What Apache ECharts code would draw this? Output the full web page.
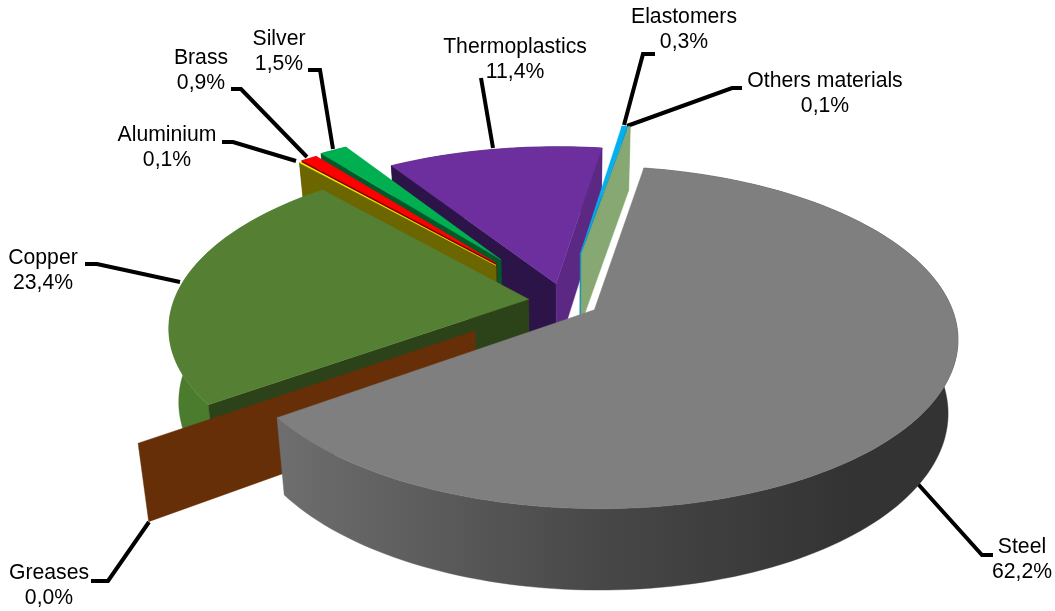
<!DOCTYPE html>
<html>
<head>
<meta charset="utf-8">
<style>html,body{margin:0;padding:0;background:#fff}#chart{width:1055px;height:611px}</style>
<script src="https://cdn.jsdelivr.net/npm/echarts@6/dist/echarts.min.js"></script>
</head>
<body>
<div id="chart"></div>
<script>
// Data, in the order the pie runs clockwise from its first angle
const categories = ['Steel','Greases','Copper','Aluminium','Brass','Silver','Thermoplastics','Elastomers','Others materials'];
const values = [62.2,0.0,23.4,0.1,0.9,1.5,11.4,0.3,0.1];

// Per-slice look, by category
const explode = [0.10,0.30,0.10,0.30,0.31,0.32,0.11,0.30,0.30];
const topColors = ['#7F7F7F','#662F08','#558034','#FFFF00','#FF0000','#00B050','#6E2F9E','#00B0F0','#8AAA75'];
const startWallColors = ['#555555','#662F08','#2C4319','#6B6600','#800000','#005A2A','#2C1348','#0A8FBF','#8AAA75'];
const endWallColors = ['#555555','#662F08','#2C4319','#6B6600','#800000','#005A2A','#5B2884','#0A8FBF','#87A872'];
const outerWallColors = [null,'#662F08','#4B7B2D','#6B6600','#800000','#005A2A','#2C1348','#0A8FBF','#8AAA75'];
const paintOrder = [6,7,8,5,4,3,2,1,0];

// Label layout
const labelCentres = [[1022,560],[49,586],[43,271],[167,148],[201,71],[279,52],[515,60],[684,30],[825,94]];
const leaders = [
  [[918,484],[982,555],[993,555]],
  [[149,522],[108,581],[91,581]],
  [[180,282],[97,264],[85,264]],
  [[296,161],[233,142],[222,142]],
  [[307,157],[241,89],[231,89]],
  [[333,149],[320,70],[308,70]],
  [[493,148],[481,78]],
  [[624,125],[643,54],[655,54]],
  [[627,126],[732,88],[742,88]]
];

// Projection of the tilted disc
const firstAngle = 10, CX = 564, CY = 301, RX = 355, RY = 164, PERSP = 0.16, DEPTH = 72, BOTTOM_SHRINK = 0.975;

function project(X, Y, z) {
  const s = 1 / (1 + PERSP * Y);
  const zs = 1 - (1 - BOTTOM_SHRINK) * z;
  return [CX + RX * X * s * zs, CY - RY * Y * s * zs + DEPTH * s * z];
}
const rad = d => d * Math.PI / 180;

const total = values.reduce((a, b) => a + b, 0);
const starts = [];
values.reduce((acc, v, i) => { starts[i] = acc; return acc + v / total * 360; }, firstAngle);

function buildSlice(i) {
  const a0 = starts[i], sweep = values[i] / total * 360, a1 = a0 + sweep, mid = rad(a0 + sweep / 2);
  const ox = explode[i] * Math.sin(mid), oy = explode[i] * Math.cos(mid);
  const rim = z => {
    const pts = [], n = Math.max(1, Math.ceil(sweep / 1.5));
    for (let k = 0; k <= n; k++) {
      const a = rad(a0 + sweep * k / n);
      pts.push(project(ox + Math.sin(a), oy + Math.cos(a), z));
    }
    return pts;
  };
  const apex = z => project(ox, oy, z);
  const topRim = rim(0), botRim = rim(1);
  const out = [];
  const poly = (points, fill) => out.push({
    type: 'polygon', shape: { points: points },
    style: { fill: fill, stroke: fill, lineWidth: 0.4 }, silent: true
  });
  if (sweep > 0.01) {
    const wallFill = outerWallColors[i] || {
      type: 'linear', x: 280, y: 0, x2: 950, y2: 0, global: true,
      colorStops: [
        { offset: 0, color: '#6E6E6E' },
        { offset: 0.47, color: '#484848' },
        { offset: 0.85, color: '#333333' },
        { offset: 1, color: '#333333' }
      ]
    };
    poly(topRim.concat(botRim.slice().reverse()), wallFill);
  }
  // A cut face shows only when it turns towards the viewer
  if (Math.sin(rad(a0)) < 0) poly([apex(0), topRim[0], botRim[0], apex(1)], startWallColors[i]);
  if (sweep > 0.01) {
    if (Math.sin(rad(a1)) > 0) poly([apex(0), topRim[topRim.length - 1], botRim[botRim.length - 1], apex(1)], endWallColors[i]);
    poly([apex(0)].concat(topRim), topColors[i]);
  }
  return out;
}

function label(i) {
  const c = labelCentres[i];
  return {
    type: 'text', silent: true, z2: 20,
    style: {
      x: c[0], y: c[1],
      text: categories[i] + '\n' + values[i].toFixed(1).replace('.', ',') + '%',
      font: '21.2px "Liberation Sans", Arial, sans-serif',
      fill: '#000', align: 'center', verticalAlign: 'middle', lineHeight: 25
    }
  };
}

function leader(i) {
  return {
    type: 'polyline', silent: true, z2: 10,
    shape: { points: leaders[i] },
    style: { fill: 'none', stroke: '#000', lineWidth: 4, lineJoin: 'miter' }
  };
}

const chart = echarts.init(document.getElementById('chart'), null, { renderer: 'canvas' });
chart.setOption({
  animation: false,
  backgroundColor: '#fff',
  series: [
    {
      type: 'custom', coordinateSystem: 'none', z: 1, silent: true,
      data: categories.map((_, i) => [i]),
      renderItem: (params, api) => ({ type: 'group', children: [leader(api.value(0))] })
    },
    {
      type: 'custom', coordinateSystem: 'none', z: 2, silent: true,
      data: paintOrder.map(i => [i]),
      renderItem: (params, api) => ({ type: 'group', children: buildSlice(api.value(0)) })
    },
    {
      type: 'custom', coordinateSystem: 'none', z: 3, silent: true,
      data: categories.map((_, i) => [i]),
      renderItem: (params, api) => label(api.value(0))
    }
  ]
});
</script>
</body>
</html>
